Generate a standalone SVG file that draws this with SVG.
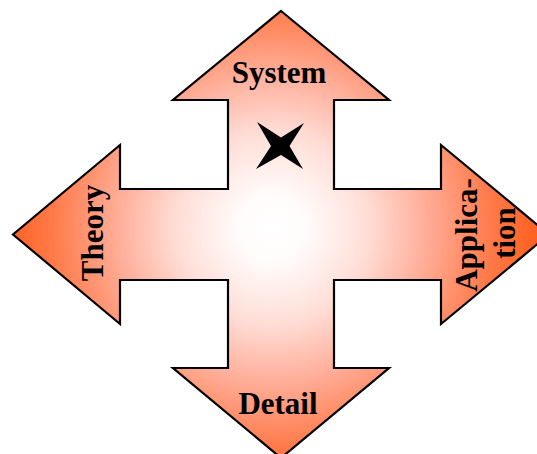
<svg xmlns="http://www.w3.org/2000/svg" width="537" height="454" viewBox="0 0 537 454">
<style>
.lbl{font-family:"Liberation Serif","Times New Roman",serif;font-weight:bold;font-size:31px;fill:#000;text-anchor:middle}
</style>
<defs>
<radialGradient id="g" gradientUnits="userSpaceOnUse" cx="272" cy="228" r="275">
<stop offset="0" stop-color="#FFFFFF"/>
<stop offset="0.12" stop-color="#FFFCFB"/>
<stop offset="0.35" stop-color="#FFDDD6"/>
<stop offset="0.55" stop-color="#FFB09C"/>
<stop offset="0.8" stop-color="#FF7A4A"/>
<stop offset="1" stop-color="#FF5A14"/>
</radialGradient>
</defs>
<rect width="537" height="454" fill="#fff"/>
<g id="arrow">
<path d="M281,11 L389,100 L334,100 L334,189 L441,189 L441,145 L549,234.5 L441,324 L441,280 L334,280 L334,368 L389,368 L281,458 L173,368 L228,368 L228,280 L120,280 L120,324 L13,234.5 L120,145 L120,189 L228,189 L228,100 L173,100 Z" fill="url(#g)" stroke="#000" stroke-width="2.2" stroke-linejoin="miter"/>
</g>
<g id="star">
<path d="M257,122 L281,137.5 L304,123 L289.5,146 L303,169 L281,155 L256,169 L271,146 Z" fill="#000"/>
</g>
<g id="system"><text class="lbl" x="279" y="83">System</text></g>
<g id="detail"><text class="lbl" x="278" y="414">Detail</text></g>
<g id="theory"><text class="lbl" transform="translate(103,233) rotate(-90)">Theory</text></g>
<g id="application"><text class="lbl" transform="translate(477,235) rotate(-90)">Applica-</text><text class="lbl" transform="translate(515,233) rotate(-90)">tion</text></g>
</svg>
